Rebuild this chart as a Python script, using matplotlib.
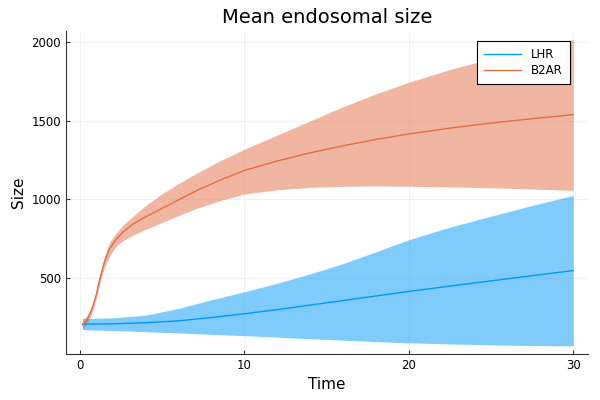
import numpy as np
import matplotlib
matplotlib.use('Agg')
import matplotlib.pyplot as plt

# B2AR mean endosomal size with ribbon
t_b2ar = [0.16, 0.4, 0.67, 0.85, 1.0, 1.2, 1.5, 1.8, 2.2, 2.6, 3.2, 4.0, 5.0, 6.0, 7.0, 8.5,
          10, 12, 14, 16, 18, 20, 22.5, 25, 27.5, 30]
mean_b2ar = [200, 225, 285, 340, 395, 490, 605, 685, 745, 790, 840, 888, 942, 996, 1050, 1120,
             1183, 1243, 1295, 1340, 1380, 1415, 1452, 1484, 1512, 1538]
upper_b2ar = [235, 255, 310, 365, 420, 520, 640, 725, 785, 833, 890, 960, 1035, 1100, 1160, 1243,
              1318, 1408, 1498, 1588, 1670, 1744, 1825, 1895, 1958, 2016]
lower_b2ar = [170, 200, 260, 315, 370, 460, 570, 640, 700, 735, 770, 808, 852, 896, 938, 990,
              1033, 1060, 1075, 1082, 1084, 1082, 1078, 1072, 1065, 1056]

# LHR mean endosomal size with ribbon
t_lhr = [0.16, 2, 4, 6, 8, 10, 12, 14, 16, 18, 20, 22.5, 25, 27.5, 30]
mean_lhr = [205, 207, 214, 226, 247, 271, 297, 326, 355, 384, 413, 447, 480, 513, 546]
upper_lhr = [240, 245, 262, 305, 360, 411, 465, 525, 590, 665, 742, 822, 892, 960, 1024]
lower_lhr = [170, 164, 157, 149, 140, 132, 122, 112, 103, 94, 86, 79, 73, 69, 67]

blue = '#009AFA'
orange = '#E36F47'

fig = plt.figure(figsize=(6, 4), dpi=100)
ax = fig.add_axes([0.11, 0.115, 0.87, 0.8075])

ax.fill_between(t_lhr, lower_lhr, upper_lhr, color=blue, alpha=0.5, linewidth=0)
ax.plot(t_lhr, mean_lhr, color=blue, linewidth=1, label='LHR')
ax.fill_between(t_b2ar, lower_b2ar, upper_b2ar, color=orange, alpha=0.5, linewidth=0)
ax.plot(t_b2ar, mean_b2ar, color=orange, linewidth=1, label='B2AR')

ax.set_xlim(-0.85, 30.9)
ax.set_ylim(15, 2070)
ax.set_xticks([0, 10, 20, 30])
ax.set_yticks([500, 1000, 1500, 2000])
ax.grid(True, color='black', alpha=0.08, linewidth=0.5)
ax.set_axisbelow(True)
for s in ['top', 'right']:
    ax.spines[s].set_visible(False)
for s in ['left', 'bottom']:
    ax.spines[s].set_color('#333333')
ax.tick_params(direction='in', labelsize=8.5, length=3, color='#333333')

ax.set_title('Mean endosomal size', fontsize=14)
ax.set_xlabel('Time', fontsize=11)
ax.set_ylabel('Size', fontsize=11)

leg = ax.legend(loc='upper right', bbox_to_anchor=(0.965, 0.97), fontsize=8.5,
                fancybox=False, framealpha=1, edgecolor='black', borderaxespad=0,
                handlelength=3.2, borderpad=0.6, labelspacing=0.3)
leg.get_frame().set_linewidth(0.8)

fig.savefig('out.png', dpi=100)
